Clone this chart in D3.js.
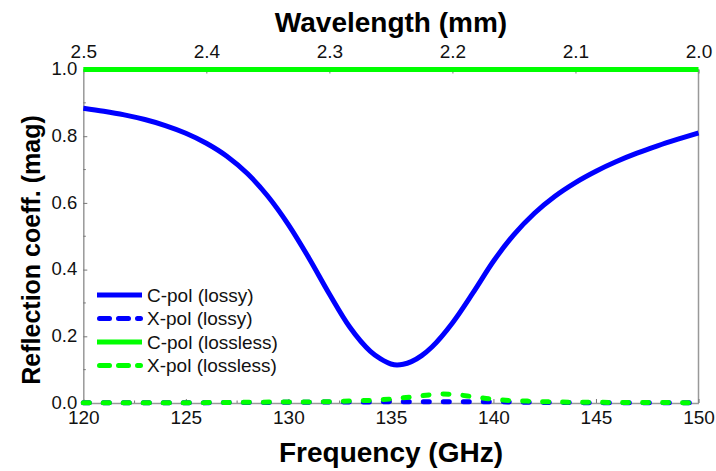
<!DOCTYPE html>
<html>
<head>
<meta charset="utf-8">
<script src="https://cdn.jsdelivr.net/npm/d3@7"></script>
<style>
  html, body { margin: 0; padding: 0; background: #fff; }
  svg { display: block; font-family: Arial, "Liberation Sans", sans-serif; }
</style>
</head>
<body>
<svg id="chart" width="716" height="471"></svg>
<script>
// ---- data ----
const cpolLossyFreq = [120,121,122,123,124,125,126,127,128,129,130,131,132,133,134,134.5,135,135.3,135.6,136,136.5,137,138,139,140,141,142,143,144,145,146,147,148,149,150];
const cpolLossyVal  = [0.884,0.875,0.864,0.850,0.832,0.809,0.779,0.740,0.688,0.620,0.535,0.435,0.327,0.227,0.155,0.132,0.117,0.114,0.116,0.124,0.142,0.168,0.240,0.330,0.425,0.505,0.569,0.620,0.661,0.695,0.724,0.749,0.771,0.791,0.810];

const xpolLossyFreq = [120,125,130,133,134,135,136,137,138,139,140,141,142,145,150];
const xpolLossyVal  = [0.001,0.001,0.002,0.003,0.003,0.004,0.004,0.004,0.004,0.004,0.004,0.003,0.002,0.001,0.001];

const cpolLosslessFreq = [120,150];
const cpolLosslessVal  = [1.0,1.0];

const xpolLosslessFreq = [120,125,128,130,131,132,133,134,135,136,137,137.5,138,139,140,141,142,143,145,150];
const xpolLosslessVal  = [0.001,0.001,0.002,0.003,0.003,0.004,0.006,0.008,0.012,0.018,0.025,0.027,0.026,0.019,0.011,0.007,0.005,0.003,0.002,0.001];

const freqTicks = [120,125,130,135,140,145,150];
const freqMinorTicks = [122.5,127.5,132.5,137.5,142.5,147.5];
const wavelengthTicks = [2.5,2.4,2.3,2.2,2.1,2.0];
const wavelengthMinorTicks = [2.45,2.35,2.25,2.15,2.05];
const yTicks = [0,0.2,0.4,0.6,0.8,1.0];
const yMinorTicks = [0.1,0.3,0.5,0.7,0.9];

const seriesNames = ["C-pol (lossy)","X-pol (lossy)","C-pol (lossless)","X-pol (lossless)"];

// ---- layout ----
const L = 83.3, R = 698.5, T = 69.5, B = 403;
const BLUE = "#0000ff", GREEN = "#00ff00", AXIS = "#999999";

const svg = d3.select("#chart");
const x = d3.scaleLinear().domain([120,150]).range([L,R]);
const xTop = d3.scaleLinear().domain([2.5,2.0]).range([L,R]);
const y = d3.scaleLinear().domain([0,1]).range([B,T]);

function styleAxis(g) {
  g.select(".domain").attr("stroke", AXIS).attr("stroke-width", 1.5);
  g.selectAll(".tick line").attr("stroke", "#777").attr("stroke-width", 1);
  g.selectAll(".tick text").attr("fill", "#111").attr("font-family", "Arial, 'Liberation Sans', sans-serif");
}

// frame (right side)
svg.append("line").attr("x1", R).attr("x2", R).attr("y1", T).attr("y2", B)
  .attr("stroke", AXIS).attr("stroke-width", 1.5);

// bottom axis
const gx = svg.append("g").attr("transform", `translate(0,${B})`)
  .call(d3.axisBottom(x).tickValues(freqTicks).tickFormat(d3.format("d")).tickSize(-4).tickSizeOuter(0).tickPadding(8));
gx.selectAll(".tick text").attr("font-size", 19);
styleAxis(gx);
gx.selectAll(".minor").data(freqMinorTicks).enter().append("line")
  .attr("x1", d => x(d)).attr("x2", d => x(d)).attr("y1", 0).attr("y2", -2.5)
  .attr("stroke", "#777");

// top axis
const gt = svg.append("g").attr("transform", `translate(0,${T})`)
  .call(d3.axisTop(xTop).tickValues(wavelengthTicks).tickFormat(d3.format(".1f")).tickSize(-4).tickSizeOuter(0).tickPadding(11.5));
gt.selectAll(".tick text").attr("font-size", 19);
styleAxis(gt);
gt.selectAll(".minor").data(wavelengthMinorTicks).enter().append("line")
  .attr("x1", d => xTop(d)).attr("x2", d => xTop(d)).attr("y1", 0).attr("y2", 2.5)
  .attr("stroke", "#777");

// left axis
const gy = svg.append("g").attr("transform", `translate(${L},0)`)
  .call(d3.axisLeft(y).tickValues(yTicks).tickFormat(d3.format(".1f")).tickSize(-4).tickSizeOuter(0).tickPadding(6));
gy.selectAll(".tick text").attr("font-size", 18.5).attr("dy", "0.28em");
styleAxis(gy);
gy.selectAll(".minor").data(yMinorTicks).enter().append("line")
  .attr("y1", d => y(d)).attr("y2", d => y(d)).attr("x1", 0).attr("x2", 2.5)
  .attr("stroke", "#777");

// titles
svg.append("text").attr("x", 391).attr("y", 461.5).attr("text-anchor", "middle")
  .attr("font-size", 28).attr("font-weight", "bold").attr("fill", "#000").text("Frequency (GHz)");
svg.append("text").attr("x", 391).attr("y", 31.5).attr("text-anchor", "middle")
  .attr("font-size", 28).attr("font-weight", "bold").attr("fill", "#000").text("Wavelength (mm)");
svg.append("text").attr("transform", "translate(40,250) rotate(-90)").attr("text-anchor", "middle")
  .attr("font-size", 25).attr("font-weight", "bold").attr("fill", "#000").text("Reflection coeff. (mag)");

// series
const line = d3.line().x(d => x(d[0])).y(d => y(d[1])).curve(d3.curveMonotoneX);
const zip = (a, b) => a.map((v, i) => [v, b[i]]);

const series = [
  { name: seriesNames[0], pts: zip(cpolLossyFreq, cpolLossyVal), color: BLUE, dash: null },
  { name: seriesNames[1], pts: zip(xpolLossyFreq, xpolLossyVal), color: BLUE, dash: "6,14" },
  { name: seriesNames[2], pts: zip(cpolLosslessFreq, cpolLosslessVal), color: GREEN, dash: null },
  { name: seriesNames[3], pts: zip(xpolLosslessFreq, xpolLosslessVal), color: GREEN, dash: "6,14" }
];

series.forEach(s => {
  svg.append("path").datum(s.pts).attr("d", line)
    .attr("fill", "none").attr("stroke", s.color).attr("stroke-width", 5)
    .attr("stroke-linecap", s.dash ? "round" : "butt")
    .attr("stroke-dasharray", s.dash);
});

// legend
const legY = [295, 318.5, 342, 365.5];
const lg = svg.append("g");
series.forEach((s, i) => {
  lg.append("line").attr("x1", s.dash ? 99.5 : 97).attr("x2", s.dash ? 140.5 : 142)
    .attr("y1", legY[i]).attr("y2", legY[i])
    .attr("stroke", s.color).attr("stroke-width", 5)
    .attr("stroke-linecap", s.dash ? "round" : "butt")
    .attr("stroke-dasharray", s.dash ? "10,9" : null);
  lg.append("text").attr("x", 147).attr("y", legY[i]).attr("dy", "0.35em")
    .attr("font-size", 19).attr("fill", "#111").text(s.name);
});
</script>
</body>
</html>
